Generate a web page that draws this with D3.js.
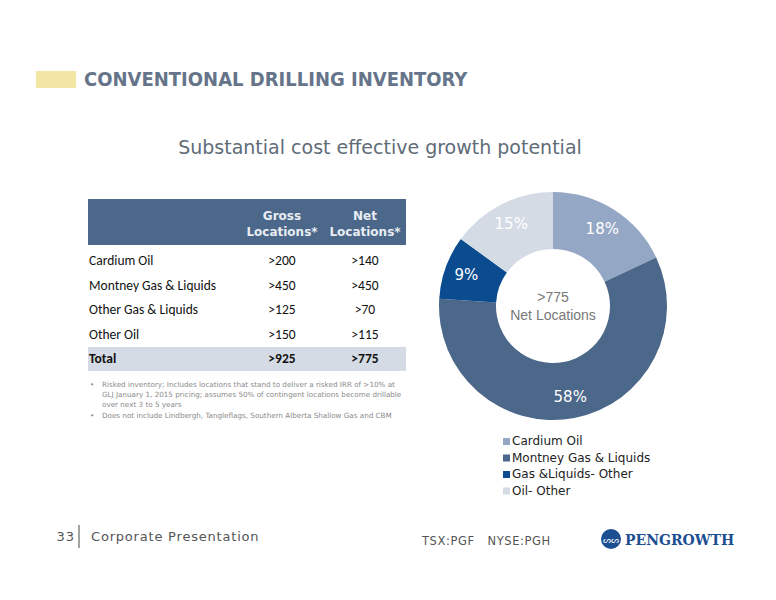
<!DOCTYPE html><html><head><meta charset="utf-8">
<script src="https://cdn.jsdelivr.net/npm/d3@7"></script>
<style>body{margin:0;background:#fff}</style></head><body>
<svg id="c" width="776" height="600"></svg>
<script>
const categories=["Cardium Oil","Montney Gas & Liquids","Gas &Liquids- Other","Oil- Other"];
const shares=[18,58,9,15];
const colors=["#94a8c5","#4b6789","#0b4b90","#d4dbe5"];
const rowNames=["Cardium Oil","Montney Gas & Liquids","Other Gas & Liquids","Other Oil"];
const gross=[">200",">450",">125",">150"];
const net=[">140",">450",">70",">115"];
const totals=[">925",">775"];
const svg=d3.select("#c");
const F="Verdana, DejaVu Sans, sans-serif";
svg.append("rect").attr("x",36).attr("y",71).attr("width",40).attr("height",17).attr("fill","#f3e6a4");
svg.append("text").attr("x",84).attr("y",86).text("CONVENTIONAL DRILLING INVENTORY").attr("font-family","DejaVu Sans Condensed, DejaVu Sans, sans-serif").attr("font-stretch","condensed").attr("font-weight","bold").attr("font-size",20).attr("fill","#66748a");
svg.append("text").attr("x",380).attr("y",154).attr("text-anchor","middle").text("Substantial cost effective growth potential").attr("font-family",F).attr("font-size",19).attr("fill","#606c78");
// table
svg.append("rect").attr("x",88).attr("y",199).attr("width",318).attr("height",46).attr("fill","#4b6789");
const hdr=svg.append("g").attr("font-family",F).attr("font-size",12).attr("font-weight","bold").attr("fill","#e8edf3").attr("text-anchor","middle");
[["Gross","Locations*",282],["Net","Locations*",365]].forEach(h=>{hdr.append("text").attr("x",h[2]).attr("y",220).text(h[0]);hdr.append("text").attr("x",h[2]).attr("y",236).text(h[1]);});
const y=d3.scalePoint().domain(d3.range(5)).range([260,358]);
svg.append("rect").attr("x",88).attr("y",347).attr("width",318).attr("height",24).attr("fill","#d4dbe5");
const tf="Calibri, Carlito, Liberation Sans, sans-serif";
rowNames.concat(["Total"]).forEach((n,i)=>{
 const w=i==4?"bold":"normal";
 const g=svg.append("g").attr("font-family",tf).attr("font-size",13.5).attr("fill","#111").attr("font-weight",w);
 g.append("text").attr("x",89).attr("y",y(i)+5).text(n);
 g.append("text").attr("x",282).attr("y",y(i)+5).attr("text-anchor","middle").text(i<4?gross[i]:totals[0]);
 g.append("text").attr("x",365).attr("y",y(i)+5).attr("text-anchor","middle").text(i<4?net[i]:totals[1]);
});
const notes=svg.append("g").attr("font-family",F).attr("font-size",7.2).attr("fill","#8a8a8a");
notes.append("text").attr("x",90).attr("y",387).text("•");notes.append("text").attr("x",90).attr("y",418).text("•");
[["Risked inventory; Includes locations that stand to deliver a risked IRR of >10% at",387],["GLJ January 1, 2015 pricing; assumes 50% of contingent locations become drillable",397],["over next 3  to 5 years",407],["Does not include Lindbergh, Tangleflags, Southern Alberta Shallow Gas and CBM",418]].forEach(t=>notes.append("text").attr("x",102).attr("y",t[1]).text(t[0]));
// donut
const cx=553,cy=306;
const pie=d3.pie().sort(null)(shares);
const arc=d3.arc().innerRadius(57).outerRadius(114);
const lab=d3.arc().innerRadius(92).outerRadius(92);
const g=svg.append("g").attr("transform",`translate(${cx},${cy})`);
g.selectAll("path").data(pie).join("path").attr("d",arc).attr("fill",(d,i)=>colors[i]);
g.selectAll("text.l").data(pie).join("text").attr("class","l").attr("transform",d=>`translate(${lab.centroid(d)})`).attr("dy","0.35em").attr("text-anchor","middle").attr("font-family",F).attr("font-size",15).attr("fill","#fff").text(d=>d.data+"%");
g.append("text").attr("y",-4).attr("text-anchor","middle").attr("font-family","Arial, Liberation Sans, sans-serif").attr("font-size",14).attr("fill","#777").text(">775");
g.append("text").attr("y",14).attr("text-anchor","middle").attr("font-family","Arial, Liberation Sans, sans-serif").attr("font-size",14).attr("fill","#777").text("Net Locations");
const lg=svg.append("g");
categories.forEach((c,i)=>{const yy=443+i*16.5;
 lg.append("rect").attr("x",503).attr("y",yy-5).attr("width",7).attr("height",7).attr("fill",colors[i]);
 lg.append("text").attr("x",512).attr("y",yy+2).text(c).attr("font-family",F).attr("font-size",12).attr("fill","#222");});
// footer
const ft=svg.append("g").attr("font-family",F).attr("fill","#555");
ft.append("text").attr("x",75).attr("y",541).attr("text-anchor","end").attr("font-size",13).attr("letter-spacing",1).text("33");
ft.append("line").attr("x1",79).attr("x2",79).attr("y1",525).attr("y2",548).attr("stroke","#666").attr("stroke-width",1.2);
ft.append("text").attr("x",91).attr("y",541).attr("font-size",13).attr("letter-spacing",0.8).text("Corporate Presentation");
ft.append("text").attr("x",422).attr("y",545).attr("font-size",11.5).attr("letter-spacing",0.6).attr("xml:space","preserve").style("white-space","pre").text("TSX:PGF   NYSE:PGH");
svg.append("circle").attr("cx",611).attr("cy",539).attr("r",10).attr("fill","#1c4e92");
svg.append("text").attr("x",611).attr("y",543).attr("text-anchor","middle").attr("font-size",9).attr("fill","#fff").attr("font-family",F).text("ᔕᔕ");
svg.append("text").attr("x",625).attr("y",545).attr("font-family","DejaVu Serif, Liberation Serif, serif").attr("font-weight","bold").attr("font-size",14).attr("fill","#1c4e92").text("PENGROWTH");
</script></body></html>
